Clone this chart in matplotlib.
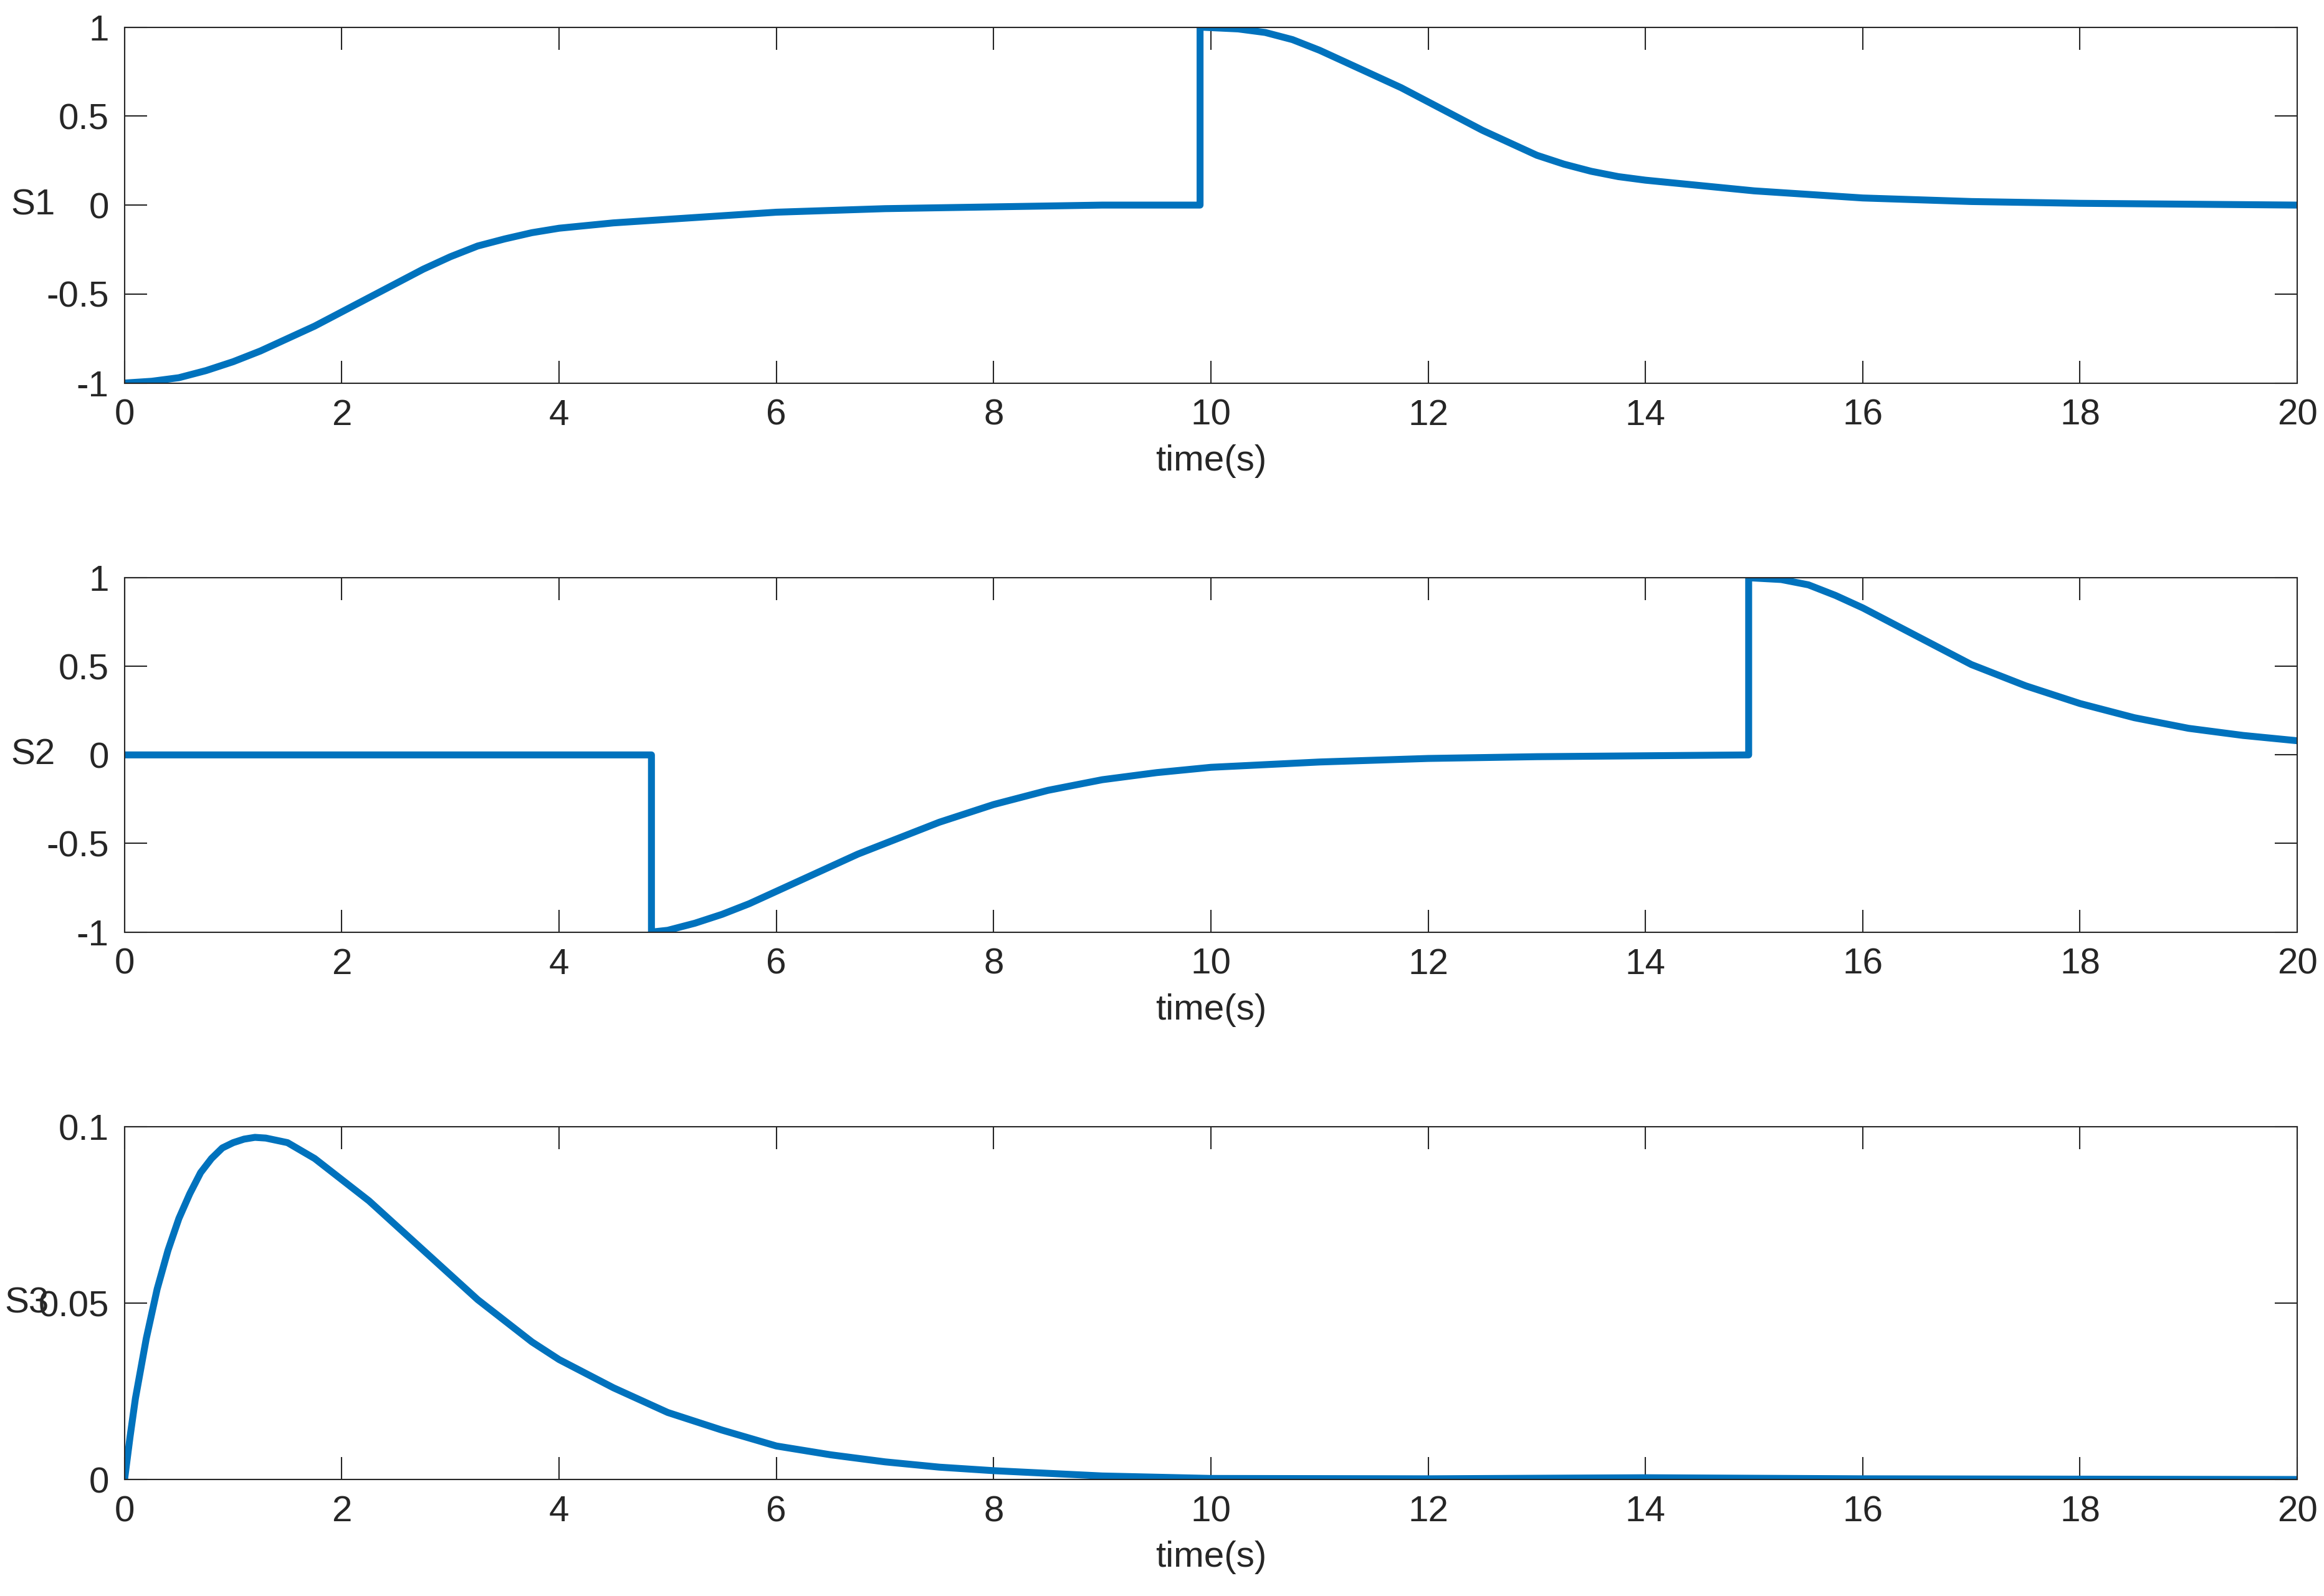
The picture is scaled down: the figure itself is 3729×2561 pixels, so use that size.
import matplotlib.pyplot as plt

plt.rcParams['font.family'] = ['Liberation Sans', 'DejaVu Sans']

# S1 samples (time, value)
t1 = [0, 0.25, 0.5, 0.75, 1, 1.25, 1.5, 1.75, 2, 2.25, 2.5, 2.75, 3, 3.25, 3.5, 3.75, 4, 4.5, 5, 5.5,
      6, 7, 8, 9, 9.9,
      9.9, 10.25, 10.5, 10.75, 11, 11.25, 11.5, 11.75, 12, 12.25, 12.5, 12.75, 13, 13.25, 13.5, 13.75,
      14, 14.5, 15, 15.5, 16, 17, 18, 19, 20]
s1 = [-1, -0.99, -0.97, -0.93, -0.88, -0.82, -0.75, -0.68, -0.6, -0.52, -0.44, -0.36, -0.29, -0.23, -0.19,
      -0.155, -0.13, -0.1, -0.08, -0.06, -0.04, -0.02, -0.01, 0, 0,
      1, 0.99, 0.97, 0.93, 0.87, 0.8, 0.73, 0.66, 0.58, 0.5, 0.42, 0.35, 0.28, 0.23, 0.19, 0.16,
      0.14, 0.11, 0.08, 0.06, 0.04, 0.02, 0.01, 0.005, 0]

# S2 samples
t2 = [0, 4.85, 4.85, 5, 5.25, 5.5, 5.75, 6, 6.25, 6.5, 6.75, 7, 7.25, 7.5, 7.75, 8, 8.5, 9, 9.5, 10, 11, 12, 13,
      14.95,
      14.95, 15.25, 15.5, 15.75, 16, 16.25, 16.5, 16.75, 17, 17.25, 17.5, 17.75, 18, 18.5, 19, 19.5, 20]
s2 = [0, 0, -1, -0.99, -0.95, -0.9, -0.84, -0.77, -0.7, -0.63, -0.56, -0.5, -0.44, -0.38, -0.33, -0.28,
      -0.2, -0.14, -0.1, -0.07, -0.04, -0.02, -0.01, 0,
      1, 0.99, 0.96, 0.9, 0.83, 0.75, 0.67, 0.59, 0.51, 0.45, 0.39, 0.34, 0.29, 0.21, 0.15, 0.11, 0.08]

# S3 samples
t3 = [0, 0.05, 0.1, 0.2, 0.3, 0.4, 0.5, 0.6, 0.7, 0.8, 0.9, 1, 1.1, 1.2, 1.3, 1.5, 1.75, 2, 2.25, 2.5, 2.75,
      3, 3.25, 3.5, 3.75, 4, 4.5, 5, 5.5, 6, 6.5, 7, 7.5, 8, 9, 10, 12, 14, 16, 20]
s3 = [0, 0.012, 0.023, 0.04, 0.054, 0.065, 0.074, 0.081, 0.087, 0.091, 0.094, 0.0955, 0.0965, 0.097, 0.0968,
      0.0955, 0.091, 0.085, 0.079, 0.072, 0.065, 0.058, 0.051, 0.045, 0.039, 0.034, 0.026, 0.019, 0.014,
      0.0095, 0.007, 0.005, 0.0035, 0.0025, 0.001, 0.0003, 0.0002, 0.0005, 0.0002, 0]

xticks = list(range(0, 21, 2))
yt12 = [-1, -0.5, 0, 0.5, 1]
yl12 = ['-1', '-0.5', '0', '0.5', '1']
yt3 = [0, 0.05, 0.1]
yl3 = ['0', '0.05', '0.1']

fig = plt.figure(figsize=(37.29, 25.61), dpi=100)
boxes = [(0.760, 0.983), (0.416, 0.638), (0.073, 0.294)]
series = [(t1, s1, yt12, yl12, (-1, 1), 'S1', -0.042),
          (t2, s2, yt12, yl12, (-1, 1), 'S2', -0.042),
          (t3, s3, yt3, yl3, (0, 0.1), 'S3', -0.045)]

for (b, tp), (t, s, yt, yl, lim, name, lx) in zip(boxes, series):
    ax = fig.add_axes([0.0536, b, 0.9349, tp - b])
    ax.plot(t, s, color='#0072BD', lw=8)
    ax.set_xlim(0, 20)
    ax.set_ylim(*lim)
    ax.set_xticks(xticks)
    ax.set_xticklabels([str(x) for x in xticks])
    ax.set_yticks(yt)
    ax.set_yticklabels(yl)
    ax.tick_params(direction='in', length=26, width=1.5, top=True, right=True,
                   labelsize=42, colors='#262626', pad=18)
    for sp in ax.spines.values():
        sp.set_linewidth(1.5)
        sp.set_color('#262626')
    ax.set_xlabel('time(s)', fontsize=42, color='#262626', labelpad=14)
    ax.set_ylabel(name, fontsize=42, rotation=0, color='#262626', va='center', ha='center')
    ax.yaxis.set_label_coords(lx, 0.5)

fig.savefig('out.png', dpi=100, facecolor='white')
